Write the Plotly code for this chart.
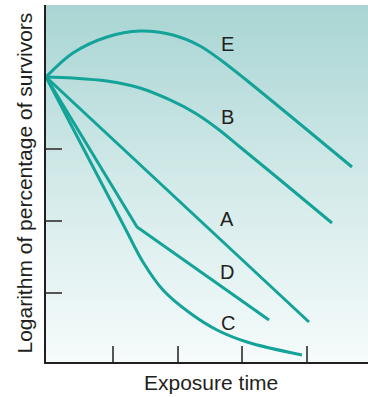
import plotly.graph_objects as go

# ---- data (exposure time in tick units, log survivors in tick units) ----
E_x = [0, 0.415, 0.938, 1.446, 1.954, 2.369, 2.708, 3.062, 3.908, 4.708]
E_y = [4.0, 4.333, 4.556, 4.639, 4.583, 4.431, 4.222, 3.972, 3.347, 2.75]

B_x = [0, 0.415, 0.938, 1.446, 1.908, 2.292, 2.646, 2.985, 3.677, 4.4]
B_y = [4.0, 3.986, 3.944, 3.847, 3.681, 3.5, 3.278, 3.028, 2.514, 1.972]

A_x = [0, 4.046]
A_y = [4.0, 0.597]

D_x = [0, 1.4, 3.431]
D_y = [4.0, 1.917, 0.625]

C_x = [0, 1.215, 1.492, 1.8, 2.215, 2.631, 3.092, 3.938]
C_y = [4.0, 1.903, 1.431, 1.042, 0.722, 0.486, 0.319, 0.139]

curve_labels = ["E", "B", "A", "D", "C"]

x_ticks = [1.031, 2.031, 3.015, 4.015]
y_ticks = [1, 2, 3, 5]

XR = [0, 4.954]
YR = [0.0417, 5.0]

LINE = "#14a398"
TXT = "#231f20"
FONT = "Liberation Sans, Arial, sans-serif"

fig = go.Figure()

# gradient background
fig.add_trace(go.Scatter(
    x=[XR[0], XR[1], XR[1], XR[0], XR[0]],
    y=[YR[0], YR[0], YR[1], YR[1], YR[0]],
    mode="lines", line=dict(width=0), fill="toself",
    fillgradient=dict(type="vertical",
                      colorscale=[[0, "#f6fbfb"], [0.5, "#d3eae9"], [1, "#a8d5d3"]]),
    hoverinfo="skip", showlegend=False,
))

for xs, ys, shape in [(E_x, E_y, "spline"), (B_x, B_y, "spline"), (A_x, A_y, "linear"),
                      (D_x, D_y, "linear"), (C_x, C_y, "spline")]:
    fig.add_trace(go.Scatter(x=xs, y=ys, mode="lines",
                             line=dict(color=LINE, width=3, shape=shape, smoothing=1.0),
                             hoverinfo="skip", showlegend=False))

label_pos = [(2.785, 4.458), (2.785, 3.444), (2.785, 2.028), (2.785, 1.292), (2.8, 0.583)]
for lab, (lx, ly) in zip(curve_labels, label_pos):
    fig.add_annotation(x=lx, y=ly, text=lab, showarrow=False,
                       font=dict(family=FONT, size=20, color=TXT))

fig.add_annotation(xref="paper", yref="paper", x=0.512, y=-0.0588, text="Exposure time",
                   showarrow=False, yanchor="middle",
                   font=dict(family=FONT, size=21, color=TXT))
fig.add_annotation(xref="paper", yref="paper", x=-0.0683, y=0.5,
                   text="Logarithm of percentage of survivors", textangle=-90,
                   showarrow=False, xanchor="center", yanchor="middle",
                   font=dict(family=FONT, size=21, color=TXT))

fig.update_layout(
    width=368, height=397,
    margin=dict(l=46, r=0, t=5, b=35),
    paper_bgcolor="white", plot_bgcolor="white",
    showlegend=False,
    xaxis=dict(range=XR, showgrid=False, zeroline=False, showline=True,
               linecolor=TXT, linewidth=1.5, ticks="inside", ticklen=16,
               tickwidth=1.5, tickcolor="#555555", tickvals=x_ticks,
               showticklabels=False, fixedrange=True),
    yaxis=dict(range=YR, showgrid=False, zeroline=False, showline=True,
               linecolor=TXT, linewidth=1.5, ticks="inside", ticklen=16,
               tickwidth=1.5, tickcolor="#555555", tickvals=y_ticks,
               showticklabels=False, fixedrange=True),
)

fig.write_html("out.html", config={"displayModeBar": False},
               post_script="document.body.style.margin='0';document.body.style.overflow='hidden';")
